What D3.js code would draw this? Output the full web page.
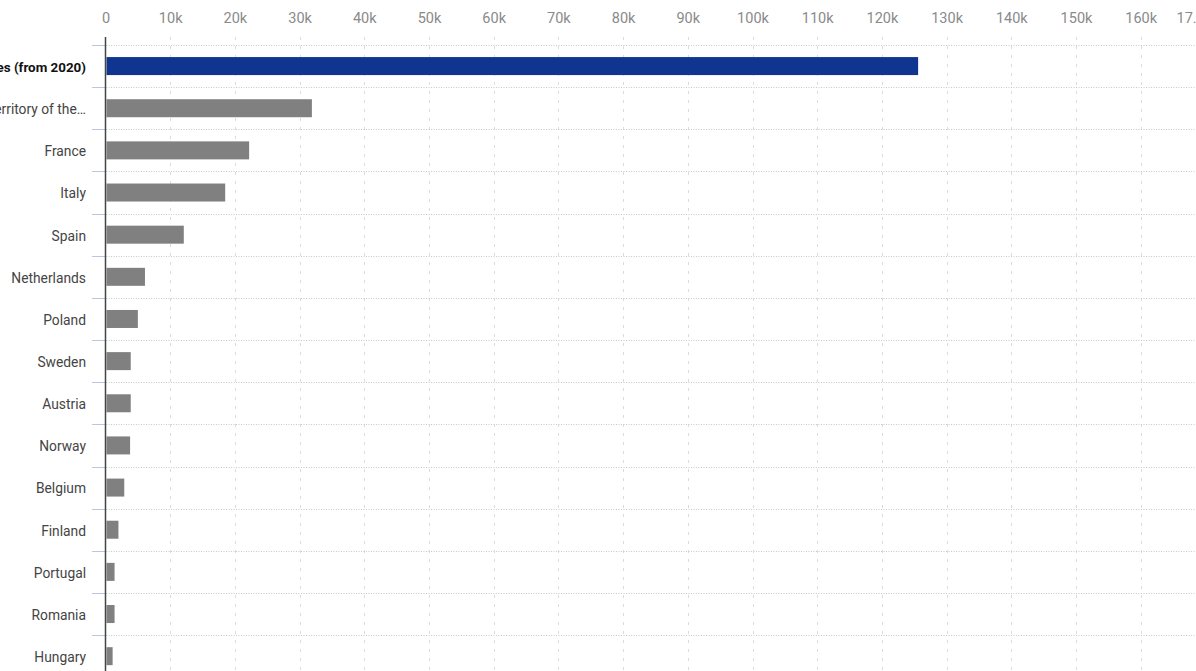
<!DOCTYPE html>
<html><head><meta charset="utf-8">
<script src="https://cdn.jsdelivr.net/npm/d3@7"></script>
<style>
html,body{margin:0;padding:0;background:#fff;overflow:hidden;}
svg{display:block;font-family:Roboto, "Noto Sans", sans-serif;}
</style></head>
<body>
<svg id="c" width="1196" height="671"></svg>
<script>
const categories = ["United States (from 2020)", "Occupied territory of the…", "France", "Italy", "Spain", "Netherlands", "Poland", "Sweden", "Austria", "Norway", "Belgium", "Finland", "Portugal", "Romania", "Hungary"];
const values = [125600, 31900, 22200, 18500, 12100, 6100, 5000, 3900, 3900, 3800, 2900, 2000, 1400, 1400, 1100];
const highlight = ["United States (from 2020)"];
const tickValues = [0,10000,20000,30000,40000,50000,60000,70000,80000,90000,100000,110000,120000,130000,140000,150000,160000,170000];

const svg = d3.select("#c");
const W = 1196, H = 671;
const x = d3.scaleLinear().domain([0, 160000]).range([105.5, 1140.7]);
const y = d3.scaleBand().domain(categories).range([45, 45 + 42.15 * categories.length]).padding(0);
const barH = 18;

// vertical dashed gridlines
svg.append("g").selectAll("line").data(tickValues.slice(1)).join("line")
  .attr("x1", d => Math.round(x(d)) + 0.5).attr("x2", d => Math.round(x(d)) + 0.5)
  .attr("y1", 37).attr("y2", H)
  .attr("stroke", "#dcdcdc").attr("stroke-width", 1).attr("stroke-dasharray", "3,6");

// horizontal dotted separators
svg.append("g").selectAll("line").data(categories).join("line")
  .attr("x1", 106).attr("x2", W)
  .attr("y1", d => Math.round(y(d)) + 0.5).attr("y2", d => Math.round(y(d)) + 0.5)
  .attr("stroke", "#c8c8c8").attr("stroke-width", 1).attr("stroke-dasharray", "1,1.5");

// small blue ticks left of axis
svg.append("g").selectAll("line").data(categories).join("line")
  .attr("x1", 92).attr("x2", 105)
  .attr("y1", d => Math.round(y(d)) + 0.5).attr("y2", d => Math.round(y(d)) + 0.5)
  .attr("stroke", "#b9c7e6").attr("stroke-width", 1);

// top axis labels (last one is shown truncated, as in the reference)
const xAxis = d3.axisTop(x).tickValues(tickValues).tickSize(0).tickPadding(0)
  .tickFormat(d => d === 0 ? "0" : d === 170000 ? "17…" : d3.format("d")(d / 1000) + "k");
const ga = svg.append("g").attr("transform", "translate(0,23)").call(xAxis);
ga.select(".domain").remove();
ga.selectAll("text").attr("fill", "#8a8a8a").attr("font-size", "14.5px")
  .attr("font-family", "Roboto, sans-serif").attr("dy", 0);
ga.selectAll(".tick").filter(d => d === 170000).select("text")
  .attr("text-anchor", "start").attr("x", 1176 - x(170000));

// bars
svg.append("g").selectAll("rect").data(categories).join("rect")
  .attr("x", x(0) + 1)
  .attr("y", d => y(d) + y.bandwidth() / 2 - barH / 2)
  .attr("width", (d, i) => x(values[i]) - x(0) - 1)
  .attr("height", barH)
  .attr("fill", d => highlight.includes(d) ? "#0f3591" : "#808080");

// category labels
svg.append("g").selectAll("text").data(categories).join("text")
  .attr("x", 86)
  .attr("y", d => y(d) + y.bandwidth() / 2 + 1)
  .attr("dy", "0.35em")
  .attr("text-anchor", "end")
  .attr("font-size", d => highlight.includes(d) ? "13.4px" : "13.8px")
  .attr("fill", d => highlight.includes(d) ? "#111" : "#444")
  .attr("font-weight", d => highlight.includes(d) ? "bold" : "normal")
  .text(d => d);

// axis line
svg.append("line").attr("x1", 105.5).attr("x2", 105.5).attr("y1", 37).attr("y2", H)
  .attr("stroke", "#444").attr("stroke-width", 1.5);
</script>
</body></html>
